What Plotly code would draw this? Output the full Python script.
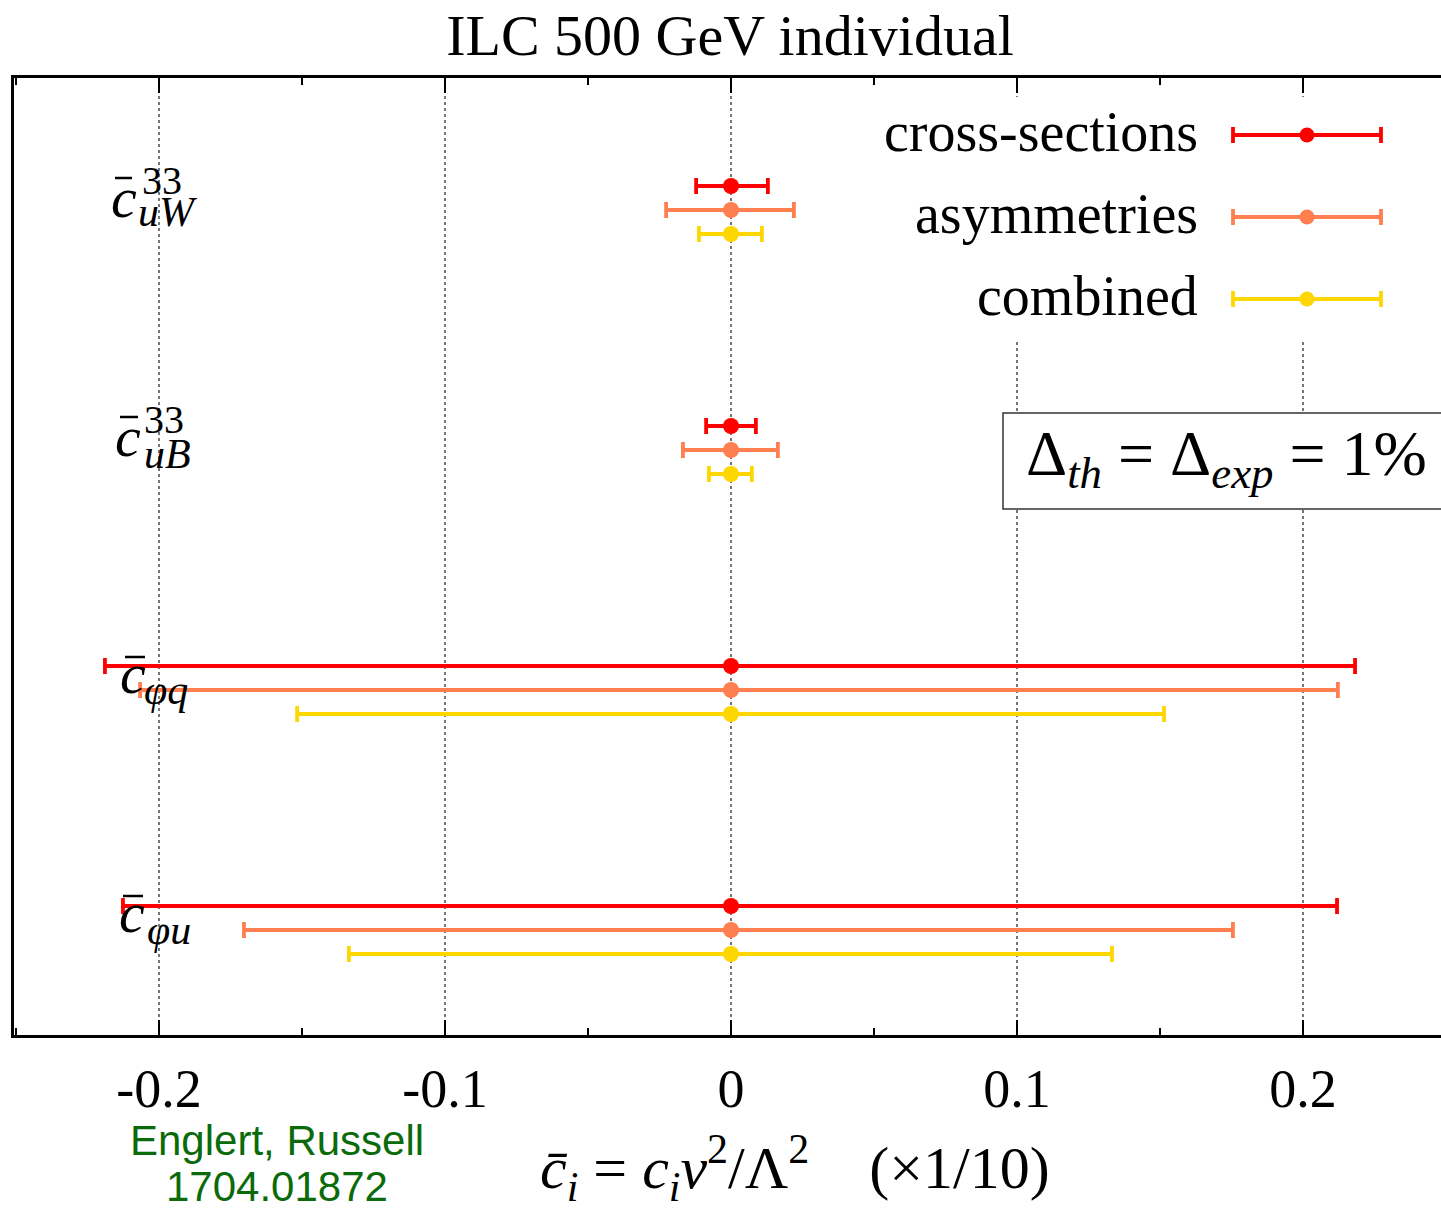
import plotly.graph_objects as go

# ---------------- data ----------------
params = ["cuW", "cuB", "cphiq", "cphiu"]
series = ["cross-sections", "asymmetries", "combined"]
colors = ["#ff0000", "#ff7f50", "#ffd700"]

central_xsec = [0.0, 0.0, 0.0, 0.0]
lo_xsec = [-0.0122, -0.0087, -0.2189, -0.2126]
hi_xsec = [0.0129, 0.0087, 0.2182, 0.2119]

central_asym = [0.0, 0.0, 0.0, 0.0]
lo_asym = [-0.0227, -0.0168, -0.2066, -0.1703]
hi_asym = [0.0220, 0.0164, 0.2122, 0.1755]

central_comb = [0.0, 0.0, 0.0, 0.0]
lo_comb = [-0.0112, -0.0077, -0.1517, -0.1336]
hi_comb = [0.0108, 0.0073, 0.1514, 0.1332]

tick_vals = [-0.2, -0.1, 0.0, 0.1, 0.2]
tick_text = ["-0.2", "-0.1", "0", "0.1", "0.2"]
minor_vals = [-0.25, -0.15, -0.05, 0.05, 0.15, 0.25]

all_central = [central_xsec, central_asym, central_comb]
all_lo = [lo_xsec, lo_asym, lo_comb]
all_hi = [hi_xsec, hi_asym, hi_comb]

# ---------------- layout helpers (pixel -> axis units) ----------------
W, H = 1441, 1208
ML, MT, MB = 14, 78, 173
PH = H - MT - MB
def px2x(p):
    return (p - 731) / 2860.0
def py2y(p):
    return (p - MT) / 24.0 - 4.5
def px2paper(p):
    return (p - ML) / (W - ML)
def py2paper(p):
    return (MT + PH - p) / PH

SERIF = "Liberation Serif"
fig = go.Figure()

# data traces
for s in range(3):
    ys = [g * 10 + s for g in range(len(params))]
    c = all_central[s]
    plus = [h - m for h, m in zip(all_hi[s], c)]
    minus = [m - l for l, m in zip(all_lo[s], c)]
    fig.add_trace(go.Scatter(
        x=c, y=ys, mode="markers", name=series[s],
        marker=dict(color=colors[s], size=16),
        error_x=dict(type="data", symmetric=False, array=plus, arrayminus=minus,
                     color=colors[s], thickness=3.8, width=8),
        showlegend=False, cliponaxis=False))

# custom legend keys
leg_rows = [135, 217, 299]
for s in range(3):
    fig.add_trace(go.Scatter(
        x=[px2x(1307)], y=[py2y(leg_rows[s])], mode="markers",
        marker=dict(color=colors[s], size=15),
        error_x=dict(type="constant", value=74 / 2860.0, color=colors[s],
                     thickness=3.8, width=8),
        showlegend=False, hoverinfo="skip"))

shapes = []
# white area behind legend (hides gridlines)
shapes.append(dict(type="rect", xref="x", yref="y", x0=px2x(870), x1=px2x(1441),
                   y0=py2y(97), y1=py2y(342), fillcolor="white", line=dict(width=0),
                   layer="between"))
# Delta box
shapes.append(dict(type="rect", xref="x", yref="y", x0=px2x(1003), x1=px2x(1470),
                   y0=py2y(413), y1=py2y(509), fillcolor="white",
                   line=dict(color="#333333", width=1.5), layer="between"))

annotations = []
for s in range(3):
    annotations.append(dict(x=px2x(1200), y=py2y(leg_rows[s] - 3), xref="x", yref="y",
                            text=series[s], showarrow=False, xanchor="right",
                            yanchor="middle", font=dict(family=SERIF, size=56, color="black")))

annotations.append(dict(x=px2x(1226), y=py2y(458), xref="x", yref="y",
                        text="Δ<sub><i>th</i></sub> = Δ<sub><i>exp</i></sub> = 1%",
                        showarrow=False, xanchor="center", yanchor="middle",
                        font=dict(family=SERIF, size=64, color="black")))

# row labels: (c centre x, c centre y, sup, sup left, sup y, sub, sub left, sub y, bar x0, bar x1, bar y)
labels = [
    (123.5, 203, "33", 140, 180, "uW", 136, 212, 115, 132, 178),
    (127.5, 442, "33", 142, 419, "uB", 142, 454, 120, 138, 417),
    (133, 679, "", 0, 0, "φq", 142, 690, 125, 145, 657),
    (131.5, 918, "", 0, 0, "φu", 145, 930, 123, 143, 896),
]
for (cx, cy, sup, supx, supy, sub, subx, suby, bx0, bx1, by) in labels:
    annotations.append(dict(x=px2x(cx), y=py2y(cy - 6), xref="x", yref="y", text="<i>c</i>",
                            showarrow=False, xanchor="center", yanchor="middle",
                            font=dict(family=SERIF, size=58, color="black")))
    if sup:
        annotations.append(dict(x=px2x(supx), y=py2y(supy), xref="x", yref="y", text=sup,
                                showarrow=False, xanchor="left", yanchor="middle",
                                font=dict(family=SERIF, size=40, color="black")))
    annotations.append(dict(x=px2x(subx), y=py2y(suby), xref="x", yref="y",
                            text="<i>" + sub + "</i>",
                            showarrow=False, xanchor="left", yanchor="middle",
                            font=dict(family=SERIF, size=42, color="black")))
    shapes.append(dict(type="line", xref="x", yref="y", x0=px2x(bx0), x1=px2x(bx1),
                       y0=py2y(by), y1=py2y(by), line=dict(color="black", width=2.5),
                       layer="above"))

# x axis title
annotations.append(dict(x=px2paper(795), y=py2paper(1168), xref="paper", yref="paper",
                        text="<i>c̄</i><sub><i>i</i></sub> = <i>c</i><sub><i>i</i></sub><i>v</i><sup>2</sup>/Λ<sup>2</sup>\u2003(×1/10)",
                        showarrow=False, xanchor="center", yanchor="middle",
                        font=dict(family=SERIF, size=60, color="black")))
# credit
annotations.append(dict(x=px2paper(277), y=py2paper(1140), xref="paper", yref="paper",
                        text="Englert, Russell",
                        showarrow=False, xanchor="center", yanchor="middle",
                        font=dict(family="Liberation Sans", size=42, color="#0b6b0b")))
annotations.append(dict(x=px2paper(277), y=py2paper(1186), xref="paper", yref="paper",
                        text="1704.01872",
                        showarrow=False, xanchor="center", yanchor="middle",
                        font=dict(family="Liberation Sans", size=42, color="#0b6b0b")))

fig.update_layout(
    width=W, height=H,
    margin=dict(l=ML, r=0, t=MT, b=MB, autoexpand=False),
    plot_bgcolor="white", paper_bgcolor="white",
    title=dict(text="ILC 500 GeV individual", x=730 / W, xanchor="center",
               y=1 - 35 / H, yanchor="middle", yref="container",
               font=dict(family=SERIF, size=58, color="black")),
    shapes=shapes, annotations=annotations,
    xaxis=dict(range=[px2x(ML), px2x(W)], tickmode="array", tickvals=tick_vals,
               ticktext=tick_text, ticks="inside", ticklen=15, tickwidth=2,
               tickcolor="black", showline=True, linecolor="black", linewidth=3,
               mirror="ticks", showgrid=True, gridcolor="#777777", griddash="dot",
               gridwidth=1.5, zeroline=False, ticklabelstandoff=4,
               tickfont=dict(family=SERIF, size=54, color="black"),
               minor=dict(tickvals=minor_vals, ticks="inside", ticklen=7, tickwidth=2,
                          tickcolor="black", showgrid=False)),
    yaxis=dict(range=[py2y(MT + PH), py2y(MT)], showticklabels=False, ticks="",
               showgrid=False, zeroline=False, showline=True, linecolor="black",
               linewidth=3, mirror=False),
    showlegend=False,
)

fig.write_html("out.html")
